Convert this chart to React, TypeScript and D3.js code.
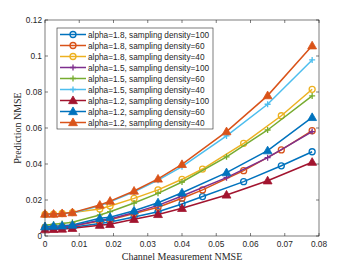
import React from 'react';
import * as d3 from 'd3';

const W = 353, H = 265;
const MARGIN = { top: 20, right: 34, bottom: 29, left: 45 };

const xTicks = [0, 0.01, 0.02, 0.03, 0.04, 0.05, 0.06, 0.07, 0.08];
const yTicks = [0, 0.02, 0.04, 0.06, 0.08, 0.1, 0.12];

// channel NMSE sample points
const xAlpha18 = [0, 0.0025, 0.005, 0.008, 0.016, 0.019, 0.026, 0.033, 0.04, 0.046, 0.058, 0.069, 0.078];
const xAlpha15 = [0, 0.0025, 0.005, 0.008, 0.016, 0.019, 0.026, 0.033, 0.04, 0.053, 0.065, 0.078];
const xAlpha12 = [0, 0.0025, 0.005, 0.008, 0.016, 0.019, 0.026, 0.033, 0.04, 0.053, 0.065, 0.078];

const a18d100 = [0.004, 0.0042, 0.0045, 0.0048, 0.007, 0.0078, 0.0105, 0.0135, 0.0178, 0.0219, 0.0302, 0.039, 0.0468];
const a18d60 = [0.0048, 0.005, 0.0052, 0.0055, 0.0083, 0.009, 0.0125, 0.016, 0.021, 0.0256, 0.0363, 0.0478, 0.0585];
const a18d40 = [0.012, 0.0122, 0.0125, 0.013, 0.015, 0.0167, 0.0209, 0.0256, 0.0315, 0.0372, 0.0515, 0.0668, 0.0815];
const a15d100 = [0.0042, 0.0045, 0.005, 0.0055, 0.0088, 0.0095, 0.013, 0.017, 0.0222, 0.0324, 0.0435, 0.058];
const a15d60 = [0.006, 0.0065, 0.007, 0.0076, 0.0117, 0.0135, 0.0183, 0.0237, 0.0300, 0.044, 0.0589, 0.0778];
const a15d40 = [0.0118, 0.012, 0.0123, 0.0128, 0.0168, 0.019, 0.0245, 0.031, 0.0385, 0.0556, 0.0732, 0.0978];
const a12d100 = [0.0035, 0.0037, 0.0039, 0.0043, 0.006, 0.0065, 0.0093, 0.012, 0.0154, 0.0228, 0.0307, 0.041];
const a12d60 = [0.0052, 0.0055, 0.0057, 0.0061, 0.0098, 0.0104, 0.014, 0.0185, 0.024, 0.0352, 0.0474, 0.0659];
const a12d40 = [0.0122, 0.0122, 0.0125, 0.013, 0.0172, 0.0194, 0.025, 0.0317, 0.0398, 0.058, 0.078, 0.1057];

const labels = [
  'alpha=1.8, sampling density=100',
  'alpha=1.8, sampling density=60',
  'alpha=1.8, sampling density=40',
  'alpha=1.5, sampling density=100',
  'alpha=1.5, sampling density=60',
  'alpha=1.5, sampling density=40',
  'alpha=1.2, sampling density=100',
  'alpha=1.2, sampling density=60',
  'alpha=1.2, sampling density=40',
];
const colors = ['#0072BD', '#D95319', '#EDB120', '#7E2F8E', '#77AC30', '#4DBEEE', '#A2142F', '#0072BD', '#D95319'];
const markers = ['o', 'o', 'o', '+', '+', '+', '^', '^', '^'];
const xs = [xAlpha18, xAlpha18, xAlpha18, xAlpha15, xAlpha15, xAlpha15, xAlpha12, xAlpha12, xAlpha12];
const ys = [a18d100, a18d60, a18d40, a15d100, a15d60, a15d40, a12d100, a12d60, a12d40];

const AXIS = '#262626';
const SANS = '"Liberation Sans", Arial, Helvetica, sans-serif';
const SERIF = '"Liberation Serif", "Times New Roman", serif';

function Marker({ type, x, y, color }: { type: string; x: number; y: number; color: string }) {
  if (type === 'o') return <circle cx={x} cy={y} r={3} fill="none" stroke={color} strokeWidth={1.3} />;
  if (type === '+')
    return (
      <path d={`M${x - 3},${y}H${x + 3}M${x},${y - 3}V${y + 3}`} stroke={color} strokeWidth={1.3} fill="none" />
    );
  const s = d3.symbol(d3.symbolTriangle, 34)();
  return <path d={s as string} transform={`translate(${x},${y + 0.6})`} fill={color} stroke={color} strokeWidth={0.8} />;
}

export default function App() {
  const innerW = W - MARGIN.left - MARGIN.right;
  const innerH = H - MARGIN.top - MARGIN.bottom;
  const x = d3.scaleLinear().domain([0, 0.08]).range([MARGIN.left, MARGIN.left + innerW]);
  const y = d3.scaleLinear().domain([0, 0.12]).range([MARGIN.top + innerH, MARGIN.top]);
  const line = d3.line<number[]>().x(d => x(d[0])).y(d => y(d[1]));

  const legX = 57, legY = 28, legW = 156, rowH = 11;

  return (
    <svg width={W} height={H} style={{ position: 'absolute', left: 0, top: 0, background: '#fff' }}>
      <rect x={0} y={0} width={W} height={H} fill="#fff" />

      {/* series */}
      {ys.map((vals, i) => {
        const pts = vals.map((v, j) => [xs[i][j], v]);
        return (
          <g key={i}>
            <path d={line(pts) as string} fill="none" stroke={colors[i]} strokeWidth={1.5} />
            {pts.map((p, j) => (
              <Marker key={j} type={markers[i]} x={x(p[0])} y={y(p[1])} color={colors[i]} />
            ))}
          </g>
        );
      })}

      {/* box + ticks */}
      <rect x={MARGIN.left} y={MARGIN.top} width={innerW} height={innerH} fill="none" stroke={AXIS} strokeWidth={0.6} />
      {xTicks.map(t => (
        <g key={'x' + t}>
          <line x1={x(t)} x2={x(t)} y1={MARGIN.top + innerH} y2={MARGIN.top + innerH - 3} stroke={AXIS} strokeWidth={0.6} />
          <line x1={x(t)} x2={x(t)} y1={MARGIN.top} y2={MARGIN.top + 3} stroke={AXIS} strokeWidth={0.6} />
          <text x={x(t)} y={MARGIN.top + innerH + 11} textAnchor="middle" fontSize={8.3} fontFamily={SANS} fill={AXIS}>
            {d3.format('~g')(t)}
          </text>
        </g>
      ))}
      {yTicks.map(t => (
        <g key={'y' + t}>
          <line x1={MARGIN.left} x2={MARGIN.left + 3} y1={y(t)} y2={y(t)} stroke={AXIS} strokeWidth={0.6} />
          <line x1={MARGIN.left + innerW} x2={MARGIN.left + innerW - 3} y1={y(t)} y2={y(t)} stroke={AXIS} strokeWidth={0.6} />
          <text x={MARGIN.left - 3} y={y(t) + 3} textAnchor="end" fontSize={8.3} fontFamily={SANS} fill={AXIS}>
            {d3.format('~g')(t)}
          </text>
        </g>
      ))}

      {/* axis labels */}
      <text x={MARGIN.left + innerW / 2} y={260} textAnchor="middle" fontSize={10} fontFamily={SERIF} fill={AXIS}>
        Channel Measurement NMSE
      </text>
      <text
        transform={`translate(21,${MARGIN.top + innerH / 2}) rotate(-90)`}
        textAnchor="middle"
        fontSize={10}
        fontFamily={SERIF}
        fill={AXIS}
      >
        Prediction NMSE
      </text>

      {/* legend */}
      <rect x={legX} y={legY} width={legW} height={rowH * 9 + 2} fill="#fff" stroke={AXIS} strokeWidth={0.6} />
      {labels.map((lab, i) => {
        const cy = legY + 6.5 + i * rowH;
        return (
          <g key={lab}>
            <line x1={legX + 3} x2={legX + 29} y1={cy} y2={cy} stroke={colors[i]} strokeWidth={1.5} />
            <Marker type={markers[i]} x={legX + 16} y={cy} color={colors[i]} />
            <text x={legX + 31} y={cy + 3} fontSize={8.25} fontFamily={SANS} fill={AXIS}>
              {lab}
            </text>
          </g>
        );
      })}
    </svg>
  );
}
